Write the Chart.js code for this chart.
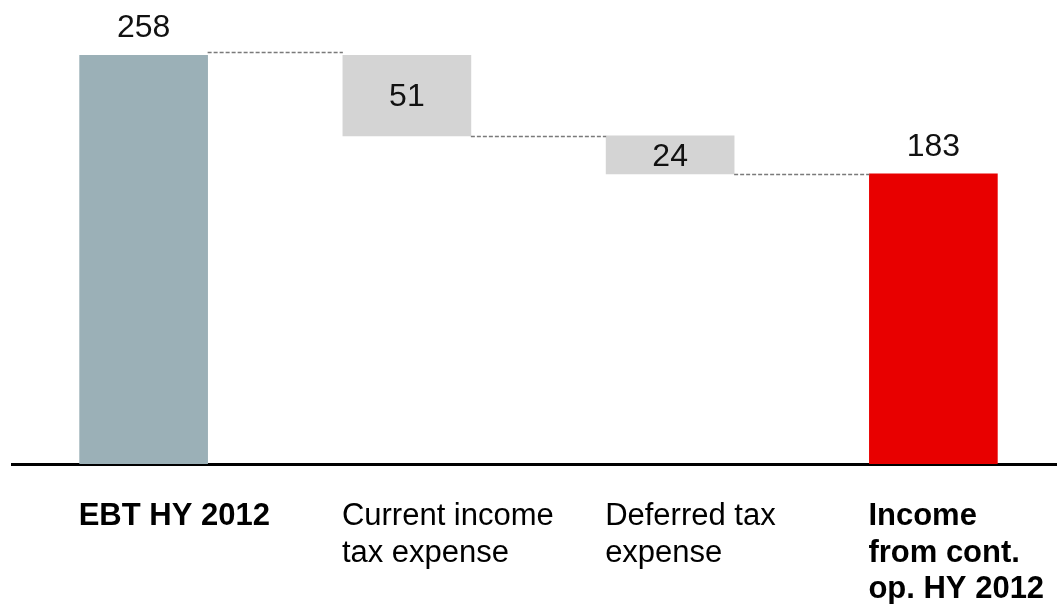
<!DOCTYPE html>
<html>
<head>
<meta charset="utf-8">
<script src="https://cdn.jsdelivr.net/npm/chart.js@4"></script>
<style>
  html, body { margin: 0; padding: 0; background: #fff; overflow: hidden; }
  #wrap { width: 1057px; height: 604px; overflow: hidden; }
</style>
</head>
<body>
<div id="wrap"><canvas id="waterfall" width="1065" height="604"></canvas></div>
<script>
// EBT to income from continuing operations, HY 2012 (waterfall)
const CATEGORIES = [
  ['EBT HY 2012'],
  ['Current income', 'tax expense'],
  ['Deferred tax', 'expense'],
  ['Income', 'from cont.', 'op. HY 2012'],
];
const BOLD_LABEL = [true, false, false, true];
const VALUES     = [258, -51, -24, 183];
const IS_TOTAL   = [true, false, false, true];
const BAR_COLORS = ['#9BB0B7', '#D4D4D4', '#D4D4D4', '#E80000'];

// floating bar ranges built from the values
let running = 0;
const ranges = VALUES.map((v, i) => {
  if (IS_TOTAL[i]) { running = v; return [0, v]; }
  const start = running;
  running += v;
  return [running, start];
});
const levels = ranges.map((r, i) => IS_TOTAL[i] ? r[1] : r[0]);

const FONT = '"Liberation Sans", Arial, Helvetica, sans-serif';

const waterfallLabels = {
  id: 'waterfallLabels',
  afterDatasetsDraw(chart) {
    const ctx  = chart.ctx;
    const meta = chart.getDatasetMeta(0);
    const y    = chart.scales.y;

    ctx.save();

    // dashed connectors
    ctx.strokeStyle = '#7a7a7a';
    ctx.lineWidth = 1.3;
    ctx.setLineDash([4, 2]);
    for (let i = 0; i < meta.data.length - 1; i++) {
      const a = meta.data[i], b = meta.data[i + 1];
      const py = Math.round(y.getPixelForValue(levels[i]) - (i === 0 ? 3 : 0)) + 0.5;
      ctx.beginPath();
      ctx.moveTo(a.x + a.width / 2, py);
      ctx.lineTo(b.x - b.width / 2, py);
      ctx.stroke();
    }
    ctx.setLineDash([]);

    // value labels
    ctx.fillStyle = '#111';
    ctx.font = '32px ' + FONT;
    ctx.textAlign = 'center';
    ctx.textBaseline = 'alphabetic';
    meta.data.forEach((bar, i) => {
      const txt = String(Math.abs(VALUES[i]));
      const top = Math.min(bar.y, bar.base);
      if (IS_TOTAL[i]) {
        ctx.fillText(txt, bar.x, top - 18);
      } else {
        const mid = (bar.y + bar.base) / 2;
        ctx.fillText(txt, bar.x, mid + 11);
      }
    });

    // category labels, left aligned with each bar
    ctx.textAlign = 'left';
    ctx.fillStyle = '#000';
    meta.data.forEach((bar, i) => {
      ctx.font = (BOLD_LABEL[i] ? 'bold ' : '') + '31px ' + FONT;
      CATEGORIES[i].forEach((line, k) => {
        ctx.fillText(line, bar.x - bar.width / 2 - 1, 525 + k * 36.5);
      });
    });

    ctx.restore();
  },
};

new Chart(document.getElementById('waterfall').getContext('2d'), {
  type: 'bar',
  data: {
    labels: CATEGORIES.map(c => c.join(' ')),
    datasets: [{
      data: ranges,
      backgroundColor: BAR_COLORS,
      borderWidth: 0,
      barThickness: 128,
    }],
  },
  options: {
    responsive: false,
    animation: false,
    layout: { padding: { left: 12, right: 0, top: 55, bottom: 140 } },
    plugins: {
      legend: { display: false },
      tooltip: { enabled: false },
    },
    scales: {
      x: {
        ticks: { display: false },
        grid: { display: false, drawTicks: false },
        border: { display: true, color: '#000', width: 3 },
      },
      y: {
        display: false,
        min: 0,
        max: 258,
      },
    },
  },
  plugins: [waterfallLabels],
});
</script>
</body>
</html>
